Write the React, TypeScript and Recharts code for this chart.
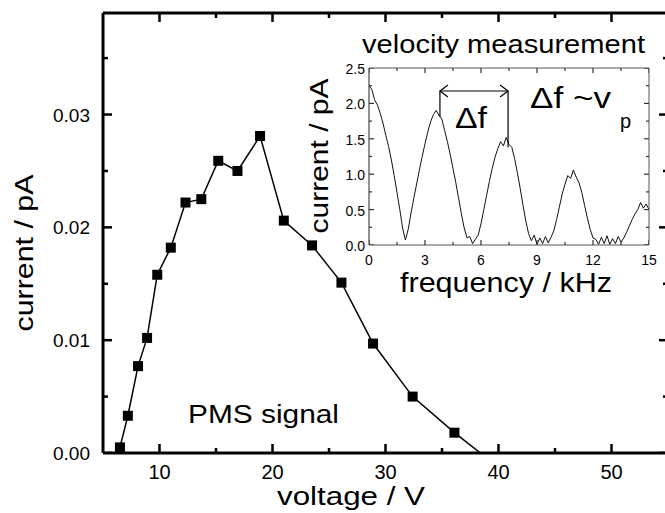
import { LineChart, Line, XAxis, YAxis, ReferenceLine, Customized } from 'recharts';

const FONT = '"Liberation Sans", Arial, Helvetica, sans-serif';

// main plot: PMS signal
const voltages = [6.5, 7.2, 8.1, 8.9, 9.8, 11.0, 12.3, 13.7, 15.2, 16.9, 18.9, 21.0, 23.5, 26.1, 28.9, 32.4, 36.1];
const currents = [0.0005, 0.0033, 0.0077, 0.0102, 0.0158, 0.0182, 0.0222, 0.0225, 0.0259, 0.025, 0.0281, 0.0206, 0.0184, 0.0151, 0.0097, 0.005, 0.0018];
const zeroCrossing = 38.4; // line runs on down to the axis here

const voltDomain = [5, 55];
const currentDomain = [0, 0.039];
const voltTicks = [10, 15, 20, 25, 30, 35, 40, 45, 50];
const currentTicks = [0, 0.005, 0.01, 0.015, 0.02, 0.025, 0.03, 0.035];

// inset: velocity measurement, sampled every 0.15 kHz
const freqStep = 0.15;
const insetCurrent = [
  2.25, 2.2, 2.05, 1.98, 1.86, 1.72, 1.55, 1.39, 1.2, 0.98, 0.74, 0.5, 0.24, 0.07,
  0.22, 0.45, 0.66, 0.86, 1.06, 1.25, 1.43, 1.6, 1.74, 1.84, 1.9, 1.83, 1.78,
  1.62, 1.46, 1.28, 1.08, 0.88, 0.66, 0.44, 0.24, 0.1, 0.12, 0.02, 0.08, 0.14,
  0.3, 0.5, 0.7, 0.9, 1.08, 1.24, 1.36, 1.46, 1.4, 1.52, 1.42, 1.38, 1.22,
  1.02, 0.8, 0.56, 0.34, 0.16, 0.06, 0.14, 0.01, 0.1, 0.02, 0.12, 0.03, 0.11,
  0.2, 0.36, 0.54, 0.72, 0.86, 0.98, 0.94, 1.06, 0.96, 0.88, 0.74, 0.56, 0.38,
  0.22, 0.1, 0.08, 0.01, 0.11, 0.02, 0.13, 0.01, 0.09, 0.02, 0.12, 0.04, 0.1,
  0.18, 0.27, 0.36, 0.44, 0.5, 0.6, 0.52, 0.58, 0.5,
];
const freqDomain = [0, 15];
const insetDomain = [0, 2.5];
const freqTicks = [0, 1.5, 3, 4.5, 6, 7.5, 9, 10.5, 12, 13.5, 15];
const insetTicks = [0, 0.25, 0.5, 0.75, 1, 1.25, 1.5, 1.75, 2, 2.25, 2.5];

// Δf bracket
const dfStart = 3.8;
const dfEnd = 7.45;
const dfTop = 2.175;
const dfLeftFoot = 1.81;
const dfRightFoot = 1.38;

const isMajor = (v: number, step: number) => Math.abs(v / step - Math.round(v / step)) < 1e-6;

const mainData = [
  ...voltages.map((v, i) => ({ voltage: v, current: currents[i] })),
  { voltage: zeroCrossing, current: 0 },
];
const insetData = insetCurrent.map((c, i) => ({ freq: Math.round(i * freqStep * 100) / 100, current: c }));

// tick marks on all four frame edges, placed through the chart scales as points of an invisible series
const mainTickPoints = [
  ...voltTicks.map((v) => ({ voltage: v, current: currentDomain[0], side: 'bottom', major: isMajor(v, 10) })),
  ...voltTicks.map((v) => ({ voltage: v, current: currentDomain[1], side: 'top', major: isMajor(v, 10) })),
  ...currentTicks.map((c) => ({ voltage: voltDomain[0], current: c, side: 'left', major: isMajor(c, 0.01) })),
  ...currentTicks.map((c) => ({ voltage: voltDomain[1], current: c, side: 'right', major: isMajor(c, 0.01) })),
];
const insetTickPoints = [
  ...freqTicks.map((f) => ({ freq: f, current: insetDomain[0], side: 'bottom', major: isMajor(f, 3) })),
  ...freqTicks.map((f) => ({ freq: f, current: insetDomain[1], side: 'top', major: isMajor(f, 3) })),
  ...insetTicks.map((c) => ({ freq: freqDomain[0], current: c, side: 'left', major: isMajor(c, 0.5) })),
  ...insetTicks.map((c) => ({ freq: freqDomain[1], current: c, side: 'right', major: isMajor(c, 0.5) })),
];

const tickMark = (majorLen: number, minorLen: number, thick: number, color: string) => (p: any) => {
  const { cx, cy, payload } = p;
  const len = payload.major ? majorLen : minorLen;
  let r = { x: cx - thick / 2, y: cy - len, w: thick, h: len };
  if (payload.side === 'top') r = { x: cx - thick / 2, y: cy, w: thick, h: len };
  if (payload.side === 'left') r = { x: cx, y: cy - thick / 2, w: len, h: thick };
  if (payload.side === 'right') r = { x: cx - len, y: cy - thick / 2, w: len, h: thick };
  return <rect key={p.index} x={r.x} y={r.y} width={r.w} height={r.h} fill={color} />;
};

type LabelOpts = { side: 'bottom' | 'left'; major: number; format: (v: number) => string; fontSize: number; gap: number; dy?: number };

function AxisLabel(props: any) {
  const o: LabelOpts = props.opts;
  const x = Number(props.x);
  const y = Number(props.y);
  const v = props.payload.value;
  if (!isMajor(v, o.major)) return <g />;
  if (o.side === 'bottom')
    return <text x={x} y={y + o.gap} textAnchor="middle" fontSize={o.fontSize} fontFamily={FONT} fill="#000">{o.format(v)}</text>;
  return <text x={x - o.gap} y={y + (o.dy || 0)} textAnchor="end" fontSize={o.fontSize} fontFamily={FONT} fill="#000">{o.format(v)}</text>;
}

const labelOf = (opts: LabelOpts) => (p: any) => <AxisLabel {...p} opts={opts} />;

function MainTexts() {
  return (
    <g fontFamily={FONT} fill="#000">
      <text x={277} y={505} fontSize={26} textLength={148} lengthAdjust="spacingAndGlyphs">voltage / V</text>
      <text x={33} y={253} fontSize={26} textAnchor="middle" transform="rotate(-90 33 253)" textLength={157} lengthAdjust="spacingAndGlyphs">current / pA</text>
      <text x={188} y={423} fontSize={26} textLength={151} lengthAdjust="spacingAndGlyphs">PMS signal</text>
    </g>
  );
}

function InsetTexts() {
  return (
    <g fontFamily={FONT} fill="#000">
      <text x={62} y={53} fontSize={26} textLength={283} lengthAdjust="spacingAndGlyphs">velocity measurement</text>
      <text x={100} y={292} fontSize={28} textLength={212} lengthAdjust="spacingAndGlyphs">frequency / kHz</text>
      <text x={28} y={156} fontSize={25} textAnchor="middle" transform="rotate(-90 28 156)" textLength={155} lengthAdjust="spacingAndGlyphs">current / pA</text>
      <text x={155} y={128} fontSize={30} textLength={32} lengthAdjust="spacingAndGlyphs">Δf</text>
      <text x={230} y={108} fontSize={30} textLength={81} lengthAdjust="spacingAndGlyphs">Δf ~v</text>
      <text x={320} y={128} fontSize={20}>p</text>
    </g>
  );
}

function ArrowLine(props: any) {
  const { x1, y1, x2, y2 } = props;
  return (
    <g stroke="#000" strokeWidth={1.2} fill="none">
      <line x1={x1} y1={y1} x2={x2} y2={y2} />
      <polyline points={`${x1 + 8},${y1 - 6} ${x1},${y1} ${x1 + 8},${y1 + 6}`} />
      <polyline points={`${x2 - 8},${y2 - 6} ${x2},${y2} ${x2 - 8},${y2 + 6}`} />
    </g>
  );
}

export default function App() {
  return (
    <div style={{ position: 'absolute', left: 0, top: 0, width: 665, height: 513, overflow: 'hidden', background: '#fff' }}>
      <div style={{ position: 'absolute', left: 0, top: 0 }}>
        <LineChart width={690} height={513} data={mainData} margin={{ top: 12, right: 0, bottom: 0, left: 0 }}>
          <XAxis
            dataKey="voltage" type="number" domain={voltDomain} allowDataOverflow ticks={voltTicks} interval={0}
            height={60} tickSize={0} tickMargin={0} tickLine={false}
            axisLine={{ stroke: '#000', strokeWidth: 3 }}
            tick={labelOf({ side: 'bottom', major: 10, format: (v) => String(v), fontSize: 20, gap: 26 })}
          />
          <XAxis
            xAxisId="top" dataKey="voltage" orientation="top" type="number" domain={voltDomain} allowDataOverflow
            height={1} tickLine={false} tick={false}
            axisLine={{ stroke: '#000', strokeWidth: 3 }}
          />
          <YAxis
            type="number" dataKey="current" domain={currentDomain} allowDataOverflow ticks={currentTicks} interval={0}
            width={103} tickSize={0} tickMargin={0} tickLine={false}
            axisLine={{ stroke: '#000', strokeWidth: 3 }}
            tick={labelOf({ side: 'left', major: 0.01, format: (v) => v.toFixed(2), fontSize: 19, gap: 13, dy: 7 })}
          />
          <YAxis
            yAxisId="right" dataKey="current" orientation="right" type="number" domain={currentDomain} allowDataOverflow
            width={22} tickLine={false} tick={false}
            axisLine={{ stroke: '#000', strokeWidth: 3 }}
          />
          <Line
            data={mainTickPoints} dataKey="current" stroke="none" legendType="none"
            isAnimationActive={false} activeDot={false}
            dot={tickMark(9, 5, 2.5, '#000')}
          />
          <Line
            dataKey="current" type="linear" stroke="#000" strokeWidth={1.5} isAnimationActive={false}
            dot={(p: any) =>
              p.index < voltages.length ? (
                <rect key={p.index} x={p.cx - 5} y={p.cy - 5} width={10} height={10} fill="#000" />
              ) : (
                <g key={p.index} />
              )
            }
            activeDot={false}
          />
          <Customized component={MainTexts} />
        </LineChart>
      </div>

      <div style={{ position: 'absolute', left: 300, top: 0 }}>
        <LineChart width={360} height={310} data={insetData} margin={{ top: 67, right: 10, bottom: 0, left: 0 }}>
          <XAxis
            dataKey="freq" type="number" domain={freqDomain} allowDataOverflow ticks={freqTicks} interval={0}
            height={65} tickSize={0} tickMargin={0} tickLine={false}
            axisLine={{ stroke: '#555', strokeWidth: 1 }}
            tick={labelOf({ side: 'bottom', major: 3, format: (v) => String(v), fontSize: 14, gap: 20 })}
          />
          <XAxis
            xAxisId="top" dataKey="freq" orientation="top" type="number" domain={freqDomain} allowDataOverflow
            height={1} tickLine={false} tick={false}
            axisLine={{ stroke: '#555', strokeWidth: 1 }}
          />
          <YAxis
            type="number" dataKey="current" domain={insetDomain} allowDataOverflow ticks={insetTicks} interval={0}
            width={69} tickSize={0} tickMargin={0} tickLine={false}
            axisLine={{ stroke: '#222', strokeWidth: 1 }}
            tick={labelOf({ side: 'left', major: 0.5, format: (v) => v.toFixed(1), fontSize: 14, gap: 4, dy: 6 })}
          />
          <YAxis
            yAxisId="right" dataKey="current" orientation="right" type="number" domain={insetDomain} allowDataOverflow
            width={1} tickLine={false} tick={false}
            axisLine={{ stroke: '#555', strokeWidth: 1 }}
          />
          <Line
            data={insetTickPoints} dataKey="current" stroke="none" legendType="none"
            isAnimationActive={false} activeDot={false}
            dot={tickMark(5, 3, 1.2, '#333')}
          />
          <Line dataKey="current" type="linear" stroke="#111" strokeWidth={1} dot={false} activeDot={false} isAnimationActive={false} />
          <ReferenceLine segment={[{ x: dfStart, y: dfLeftFoot }, { x: dfStart, y: dfTop }]} stroke="#000" strokeWidth={1.2} />
          <ReferenceLine segment={[{ x: dfEnd, y: dfRightFoot }, { x: dfEnd, y: dfTop }]} stroke="#000" strokeWidth={1.2} />
          <ReferenceLine segment={[{ x: dfStart, y: dfTop }, { x: dfEnd, y: dfTop }]} shape={ArrowLine} />
          <Customized component={InsetTexts} />
        </LineChart>
      </div>
    </div>
  );
}
